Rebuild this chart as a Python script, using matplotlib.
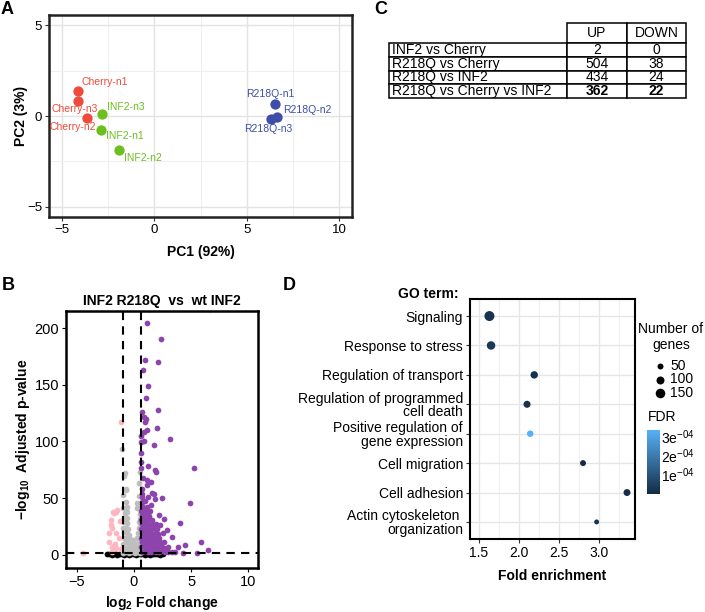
import numpy as np
import matplotlib
matplotlib.use("Agg")
import matplotlib.pyplot as plt
from matplotlib.colors import LinearSegmentedColormap, Normalize

plt.rcParams['font.family'] = ['Liberation Sans', 'DejaVu Sans']
plt.rcParams['mathtext.fontset'] = 'custom'
plt.rcParams['mathtext.rm'] = 'Liberation Sans'
plt.rcParams['mathtext.it'] = 'Liberation Sans:italic'
plt.rcParams['mathtext.bf'] = 'Liberation Sans:bold'

# ---------------- data ----------------
# A: PCA
pca_samples = ['Cherry-n1', 'Cherry-n3', 'Cherry-n2', 'INF2-n3', 'INF2-n1', 'INF2-n2',
               'R218Q-n1', 'R218Q-n2', 'R218Q-n3']
pca_group = ['Cherry', 'Cherry', 'Cherry', 'INF2', 'INF2', 'INF2', 'R218Q', 'R218Q', 'R218Q']
pc1 = [-4.13, -4.13, -3.65, -2.83, -2.90, -1.91, 6.53, 6.64, 6.30]
pc2 = [1.37, 0.82, -0.10, 0.10, -0.77, -1.87, 0.66, -0.05, -0.16]

# B: volcano
up_x = [1.31, 6.69, 1.12, 2.38, 0.93, 2.13, 0.79, 1.25, 1.08, 2.07, 0.73, 0.87, 1.05, 0.96,
        2.0, 1.17, 0.85, 0.64, 3.14, 0.85, 0.62, 1.78, 0.6, 0.62, 1.22, 5.23, 0.6, 1.83,
        1.89, 0.82, 1.17, 1.45, 1.17, 1.54, 1.74, 0.73, 1.8, 2.47, 4.94, 0.73, 1.45, 1.17,
        2.18, 4.01, 2.65, 5.9, 6.49, 5.47, 4.45, 2.85, 3.29, 3.87, 4.31,
        0.7, 0.95, 1.2, 1.45, 1.7, 1.95, 2.2, 2.45, 2.7, 3.0, 3.3, 3.6,
        0.65, 0.9, 1.15, 1.4, 1.65, 1.9, 2.15, 2.4, 2.65, 3.0,
        0.7, 0.95, 1.2, 1.45, 1.7, 2.0, 2.3, 2.6,
        0.65, 0.9, 1.15, 1.4, 1.65, 1.9, 2.2,
        0.7, 0.95, 1.2, 1.5, 1.8, 2.1, 2.5,
        0.65, 0.9, 1.15, 1.4, 1.7, 2.0,
        0.7, 0.95, 1.25, 1.55, 1.95, 2.3,
        0.65, 0.9, 1.2, 1.6,
        0.7, 1.0, 1.3,
        0.65, 0.95, 1.4,
        0.7, 1.1,
        1.0, 0.68, 1.2, 0.66]
up_y = [217, 217, 204.7, 190, 172, 170, 163, 148.5, 138, 128, 126, 122, 120, 117,
        112, 110, 108, 105, 102, 100, 99.6, 97, 90, 82, 78, 77, 76.7, 75,
        73, 68, 66, 64.6, 61.7, 55, 54, 54, 49, 50, 45.5, 47, 44, 37,
        35, 28.5, 32, 11, 4, 2, 9, 22, 16, 7, 1.5,
        3, 3.5, 2.5, 3, 3.5, 2.5, 3, 3.5, 2.5, 3, 2.5, 3,
        7, 7.5, 6.5, 7, 7.5, 6.5, 7, 7.5, 6.5, 7,
        11, 11.5, 10.5, 11, 11.5, 10.5, 11, 11.5,
        15, 15.5, 14.5, 15, 15.5, 14.5, 15,
        19, 19.5, 18.5, 19, 19.5, 18.5, 19,
        23, 23.5, 22.5, 23, 23.5, 22.5,
        27, 27.5, 26.5, 27, 27.5, 26.5,
        31, 31.5, 30.5, 31,
        35, 35.5, 34.5,
        39, 39.5, 38.5,
        43, 42.5,
        47.5, 51, 51.5, 58]
down_x = [-1.13, -1.6, -1.74, -1.8, -2.0, -2.15, -1.66, -1.95, -4.42, -1.45, -2.03,
          -1.89, -1.6, -2.18, -1.6, -1.89, -1.2, -1.3, -1.15]
down_y = [117, 38, 37, 38, 26, 19, 10, 7, 2, 40, 31, 23.5, 19, 11.7, 6, 3, 30, 15, 5]
ns_x = [-0.95, -0.7, -0.45, -0.2, 0.05, 0.3, 0.5,
        -0.9, -0.6, -0.3, 0.0, 0.25, 0.5,
        -0.95, -0.7, -0.4, -0.1, 0.2, 0.45,
        -0.85, -0.6, -0.35, -0.1, 0.3, 0.5,
        -0.9, -0.65, -0.4, 0.35, 0.55,
        -0.95, -0.7, -0.5, 0.4, 0.55,
        -0.85, -0.6, 0.45,
        -0.9, -0.65, 0.5,
        -0.8, -0.6, 0.52,
        -0.95, 0.3, -0.64,
        -0.73, -0.96, -0.87, -0.78, 0.44, -1.05, 0.5, 0.48, -0.67, -0.73, 0.29]
ns_y = [2, 2.5, 2, 2.5, 2, 2.5, 2,
        6, 6, 5, 5, 6, 6,
        10, 11, 10, 9, 10, 11,
        15, 15, 14, 13, 15, 15,
        20, 19, 18, 19, 20,
        24, 24, 23, 24, 25,
        29, 28, 29,
        33, 33, 32,
        37, 38, 36,
        41, 41, 42.5,
        58, 53, 70, 72.5, 63, 93, 73, 52, 57, 47, 45.5]
nsig_x = [-2.35, -2.15, -1.95, -1.75, -1.6, -1.45, -1.3, -1.15, -1.0, -0.85, -0.7, -0.55,
          -0.4, -0.25, -0.1, 0.05, 0.2, 0.35, 0.5, 0.65, 0.8, 0.95, 1.1, 1.25, 1.4,
          1.55, 1.7, 1.85, 2.0, 2.15, 2.3, 2.5]
nsig_y = [0.5, 0.9, 0.3, 1.0, 0.6, 0.2, 1.1, 0.5, 0.8, 0.3, 1.0, 0.6, 0.2, 0.9, 0.5,
          1.1, 0.3, 0.7, 1.0, 0.4, 0.8, 0.2, 1.0, 0.6, 0.3, 0.9, 0.5, 1.1, 0.4, 0.7,
          0.3, 0.6]

# C: DEG table
comparisons = ['INF2 vs Cherry', 'R218Q vs Cherry', 'R218Q vs INF2', 'R218Q vs Cherry vs INF2']
n_up = [2, 504, 434, 362]
n_down = [0, 38, 24, 22]

# D: GO enrichment
go_terms = ['Signaling', 'Response to stress', 'Regulation of transport',
            'Regulation of programmed\ncell death', 'Positive regulation of\ngene expression',
            'Cell migration', 'Cell adhesion', 'Actin cytoskeleton \norganization']
fold_enrichment = [1.63, 1.65, 2.19, 2.10, 2.14, 2.80, 3.35, 2.97]
n_genes = [165, 115, 85, 75, 62, 50, 72, 30]
fdr = [2.0e-5, 3.5e-5, 1.5e-5, 2.0e-5, 3.3e-4, 5e-6, 1e-5, 2.5e-5]

# ---------------- figure ----------------
W, H = 705, 612
fig = plt.figure(figsize=(W / 100, H / 100), dpi=100)


def px_axes(l, t, r, b):
    return fig.add_axes([l / W, 1 - b / H, (r - l) / W, (b - t) / H])


def letter(x, y, s):
    fig.text(x / W, 1 - y / H, s, fontsize=13, fontweight='bold', va='center', ha='left')


letter(1, 9, 'A')
letter(2, 285, 'B')
letter(374, 9, 'C')
letter(283, 285, 'D')

# ---- A ----
ax = px_axes(49, 15, 352, 217)
colors = {'Cherry': '#EF4A3A', 'INF2': '#6CBF1E', 'R218Q': '#3D4DA8'}
offsets = {'Cherry-n1': (19, 6.5), 'Cherry-n3': (-2.5, -6), 'Cherry-n2': (-10, -6.5),
           'INF2-n3': (17, 5), 'INF2-n1': (17.5, -4), 'INF2-n2': (17.5, -6),
           'R218Q-n1': (-3, 7), 'R218Q-n2': (21.5, 5), 'R218Q-n3': (-2, -7.5)}
for g in ['Cherry', 'INF2', 'R218Q']:
    xs = [x for x, gg in zip(pc1, pca_group) if gg == g]
    ys = [y for y, gg in zip(pc2, pca_group) if gg == g]
    ax.scatter(xs, ys, s=55, color=colors[g], zorder=3, linewidths=0)
for name, g, x, y in zip(pca_samples, pca_group, pc1, pc2):
    ax.annotate(name, (x, y), xytext=offsets[name], textcoords='offset points',
                ha='center', va='center', fontsize=7.5, color=colors[g], zorder=4)
ax.set_xlim(-5.7, 10.7)
ax.set_ylim(-5.55, 5.55)
ax.set_xticks([-5, 0, 5, 10])
ax.set_yticks([-5, 0, 5])
ax.set_xticks([-2.5, 2.5, 7.5], minor=True)
ax.set_yticks([-2.5, 2.5], minor=True)
ax.grid(True, which='major', color='#E3E3E3', lw=1.0)
ax.grid(True, which='minor', color='#EDEDED', lw=0.6)
ax.set_axisbelow(True)
ax.tick_params(which='minor', length=0)
ax.tick_params(which='major', length=3, width=0.8, color='#333333', labelsize=9.5, pad=2)
for sp in ax.spines.values():
    sp.set_linewidth(1.8)
    sp.set_color('#222222')
ax.set_xlabel('PC1 (92%)', fontsize=10, fontweight='bold')
ax.set_ylabel('PC2 (3%)', fontsize=10, fontweight='bold')
ax.xaxis.set_label_coords(0.5, -0.139)
ax.yaxis.set_label_coords(-0.069, 0.5)

# ---- B ----
ax = px_axes(66, 311, 258, 568)
ax.scatter(nsig_x, nsig_y, s=17, color='black', linewidths=0, zorder=2)
ax.scatter(ns_x, ns_y, s=17, color='#BEBEBE', linewidths=0, zorder=2)
ax.scatter(down_x, down_y, s=17, color='#FFB6C1', linewidths=0, zorder=2)
ax.scatter(up_x, up_y, s=17, color='#8E44AD', linewidths=0, zorder=2)
ax.axvline(-1, color='black', ls=(0, (4, 3)), lw=1.5, zorder=3)
ax.axvline(0.585, color='black', ls=(0, (4, 3)), lw=1.5, zorder=3)
ax.axhline(1.3, color='black', ls=(0, (4, 3)), lw=1.5, zorder=3)
ax.set_xlim(-5.95, 10.85)
ax.set_ylim(-11.5, 215)
ax.set_xticks([-5, 0, 5, 10])
ax.set_yticks([0, 50, 100, 150, 200])
ax.tick_params(length=3, width=0.8, labelsize=10.5, pad=2)
for sp in ax.spines.values():
    sp.set_linewidth(1.8)
ax.set_title('INF2 R218Q  vs  wt INF2', fontsize=10, fontweight='bold', pad=4)
ax.set_xlabel(r'$\mathbf{log_{2}}$ Fold change', fontsize=10, fontweight='bold')
ax.set_ylabel(r'$\mathbf{-log_{10}}$  Adjusted p-value', fontsize=10, fontweight='bold')
ax.xaxis.set_label_coords(0.5, -0.103)
ax.yaxis.set_label_coords(-0.177, 0.5)

# ---- C ----
ax = px_axes(389, 23, 686, 98)
ax.axis('off')
cell_text = [[c, str(u), str(d)] for c, u, d in zip(comparisons, n_up, n_down)]
tab = ax.table(cellText=cell_text, colLabels=['', 'UP', 'DOWN'], bbox=[0, 0, 1, 1],
               colWidths=[178, 60, 59], cellLoc='center')
tab.auto_set_font_size(False)
for (r, c), cell in tab.get_celld().items():
    cell.set_linewidth(1.1)
    cell.set_height(20 if r == 0 else 13.75)
    cell.get_text().set_fontsize(10)
    cell.PAD = 0.015
    if r == 0 and c == 0:
        cell.visible_edges = ''
    if c == 0 and r > 0:
        cell.get_text().set_horizontalalignment('left')
        cell._loc = 'left'
    if r == len(comparisons) and c > 0:
        cell.get_text().set_fontweight('bold')

# ---- D ----
ax = px_axes(470, 299, 635, 539)
cmap = LinearSegmentedColormap.from_list('gg', ['#132B43', '#56B1F7'])
norm = Normalize(0, 3.3e-4)
ypos = np.arange(1, len(go_terms) + 1)
sizes = [4 + 0.29 * n for n in n_genes]
sc = ax.scatter(fold_enrichment, ypos, s=sizes, c=fdr, cmap=cmap, norm=norm,
                linewidths=0, zorder=3)
ax.set_ylim(8.58, 0.42)
ax.set_xlim(1.387, 3.45)
ax.set_yticks(ypos)
ax.set_yticklabels(go_terms, fontsize=10, linespacing=0.95)
ax.set_xticks([1.5, 2.0, 2.5, 3.0])
ax.set_xticks([1.75, 2.25, 2.75, 3.25], minor=True)
ax.tick_params(which='minor', length=0)
ax.tick_params(which='major', length=3, width=0.8, color='#333333', labelsize=10, pad=2)
ax.grid(True, which='major', color='#E6E6E6', lw=1.0)
ax.grid(True, which='minor', axis='x', color='#EEEEEE', lw=0.6)
ax.set_axisbelow(True)
for sp in ax.spines.values():
    sp.set_linewidth(1.5)
ax.set_xlabel('Fold enrichment', fontsize=10, fontweight='bold')
ax.xaxis.set_label_coords(0.5, -0.125)
fig.text(398 / W, 1 - 294 / H, 'GO term:', fontsize=10, fontweight='bold', va='center')

fig.text(671 / W, 1 - 322 / H, 'Number of\ngenes', fontsize=10, ha='center', va='top',
         linespacing=1.15)
handles = [plt.scatter([], [], s=4 + 0.29 * n, color='black', linewidths=0) for n in [50, 100, 150]]
leg = fig.legend(handles, ['50', '100', '150'], loc='upper left',
                 bbox_to_anchor=(652 / W, 1 - 359 / H), frameon=False, fontsize=10,
                 handletextpad=0.1, labelspacing=-0.05, borderpad=0,
                 borderaxespad=0, handlelength=1.2)

fig.text(648 / W, 1 - 417 / H, 'FDR', fontsize=10, va='center')
cax = px_axes(647, 430, 660, 494)
cb = fig.colorbar(sc, cax=cax, ticks=[1e-4, 2e-4, 3e-4])
cb.ax.set_yticklabels([r'1e$^{-04}$', r'2e$^{-04}$', r'3e$^{-04}$'])
cb.outline.set_visible(False)
cb.ax.tick_params(length=0, labelsize=10, pad=1)

fig.savefig('out.png', dpi=100)
